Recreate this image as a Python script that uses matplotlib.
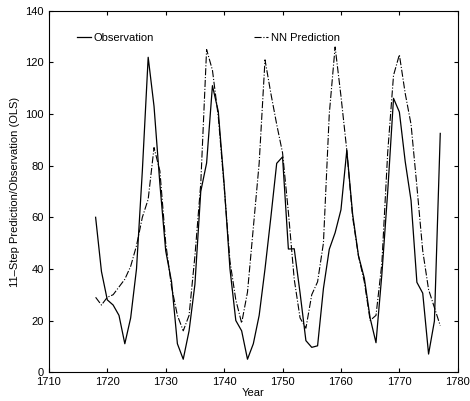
import numpy as np
import matplotlib
matplotlib.use("Agg")
import matplotlib.pyplot as plt

plt.rcParams['font.family'] = ['Liberation Sans', 'DejaVu Sans']

years = np.arange(1718, 1778)

observation = [60, 39, 28, 26, 22, 11, 21, 40, 78, 122,
               103, 73, 47, 35, 11, 5, 16, 34, 70, 81,
               111, 101, 73, 40, 20, 16, 5, 11, 22, 40,
               60, 80.9, 83.4, 47.7, 47.8, 30.7, 12.2, 9.6, 10.2, 32.4,
               47.6, 54, 62.9, 85.9, 61.2, 45.1, 36.4, 20.9, 11.4, 37.8,
               69.8, 106.1, 100.8, 81.6, 66.5, 34.8, 30.6, 7, 19.8, 92.5]

nn_prediction = [29, 26, 29, 30, 33, 36, 41, 49, 60, 67,
                 87, 78, 50, 33, 22, 16, 22, 45, 73, 125,
                 117, 99, 72, 43, 28, 19, 31, 56, 81, 121,
                 108, 96, 85, 62, 36, 21, 17, 30, 35, 50,
                 100, 126, 107, 86, 60, 45, 35, 20, 22, 42,
                 85, 115, 123, 108, 96, 72, 47, 32, 25, 18]

fig = plt.figure(figsize=(4.7, 4.01), dpi=100)
ax = fig.add_axes([0.104, 0.072, 0.870, 0.901])

ax.plot(years, observation, color='black', linewidth=0.9, label='Observation')
ax.plot(years, nn_prediction, color='black', linewidth=0.8, linestyle='-.',
        label='NN Prediction')

ax.set_xlim(1710, 1780)
ax.set_ylim(0, 140)
ax.set_xticks(np.arange(1710, 1781, 10))
ax.set_yticks(np.arange(0, 141, 20))
ax.tick_params(direction='in', top=True, right=True, labelsize=8, length=3)
ax.set_xlabel('Year', fontsize=8, labelpad=1)
ax.set_ylabel('11–Step Prediction/Observation (OLS)', fontsize=8, labelpad=4)

ax.legend(loc='upper left', bbox_to_anchor=(0.045, 0.966), ncol=2, frameon=False,
          fontsize=8, handlelength=1.2, handletextpad=0.3, columnspacing=9)

fig.savefig('out.png', dpi=100)
